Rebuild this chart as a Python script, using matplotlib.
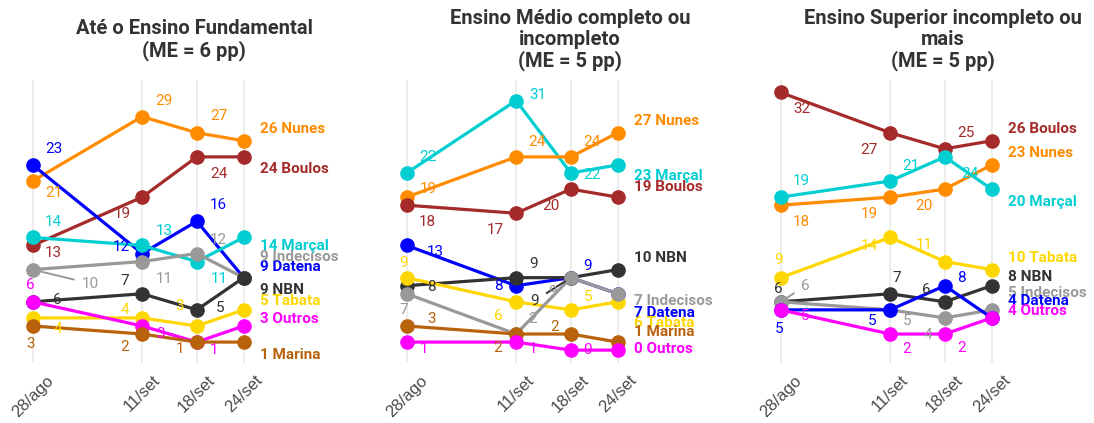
import matplotlib
matplotlib.use("Agg")
import matplotlib.pyplot as plt

plt.rcParams["font.family"] = ["Roboto", "DejaVu Sans"]

# --- data ---------------------------------------------------------------
dates = ["28/ago", "11/set", "18/set", "24/set"]
days = [0, 14, 21, 27]

titles = [
    "Até o Ensino Fundamental\n(ME = 6 pp)",
    "Ensino Médio completo ou\nincompleto\n(ME = 5 pp)",
    "Ensino Superior incompleto ou\nmais\n(ME = 5 pp)",
]

fundamental = {
    "Nunes": [21, 29, 27, 26],
    "Boulos": [13, 19, 24, 24],
    "Datena": [23, 12, 16, 9],
    "Marçal": [14, 13, 11, 14],
    "Indecisos": [10, 11, 12, 9],
    "NBN": [6, 7, 5, 9],
    "Tabata": [4, 4, 3, 5],
    "Outros": [6, 3, 1, 3],
    "Marina": [3, 2, 1, 1],
}
medio = {
    "Marçal": [22, 31, 22, 23],
    "Nunes": [19, 24, 24, 27],
    "Boulos": [18, 17, 20, 19],
    "Datena": [13, 8, 9, 7],
    "NBN": [8, 9, 9, 10],
    "Tabata": [9, 6, 5, 6],
    "Indecisos": [7, 2, 9, 7],
    "Marina": [3, 2, 2, 1],
    "Outros": [1, 1, 0, 0],
}
superior = {
    "Boulos": [32, 27, 25, 26],
    "Nunes": [18, 19, 20, 23],
    "Marçal": [19, 21, 24, 20],
    "Tabata": [9, 14, 11, 10],
    "NBN": [6, 7, 6, 8],
    "Indecisos": [6, 5, 4, 5],
    "Datena": [5, 5, 8, 4],
    "Outros": [5, 2, 2, 4],
}

colors = {
    "Nunes": "#FF8C00",
    "Boulos": "#A52A2A",
    "Datena": "#0000FF",
    "Marçal": "#00CED1",
    "Indecisos": "#999999",
    "NBN": "#333333",
    "Tabata": "#FFD700",
    "Outros": "#FF00FF",
    "Marina": "#B8620B",
}

# label placement (pixel offsets, dy positive = downwards), like ggrepel did it
offsets_fund = {
    "Nunes": [(21, 12), (22, -16), (22, -17)],
    "Boulos": [(21, 8), (-20, 17), (22, 17)],
    "Datena": [(21, -16), (-21, -7), (22, -16)],
    "Marçal": [(21, -15), (22, -14), (22, 17)],
    "Indecisos": [(58, 14), (22, 17), (22, -14)],
    "NBN": [(25, -2), (-17, -13), (23, -2)],
    "Tabata": [(25, 11), (-17, -8), (-17, -20)],
    "Outros": [(-2, -17), (18, 8), (17, 8)],
    "Marina": [(-2, 18), (-17, 13), (-17, 7)],
}
offsets_medio = {
    "Marçal": [(21, -16), (22, -6), (21, 2)],
    "Nunes": [(22, -8), (21, -15), (21, -15)],
    "Boulos": [(21, 17), (-21, 17), (-20, 17)],
    "Datena": [(29, 7), (-18, 0), (17, -12)],
    "NBN": [(25, 1), (17, -14), (-36, 23)],
    "Tabata": [(-3, -15), (-18, 14), (17, -13)],
    "Indecisos": [(-3, 16), (17, -15), (-18, 14)],
    "Marina": [(25, -7), (-18, 14), (-16, -7)],
    "Outros": [(17, 7), (17, 7), (17, 0)],
}
offsets_sup = {
    "Boulos": [(21, 17), (-21, 17), (21, -16)],
    "Nunes": [(21, 17), (-21, 17), (-21, 17)],
    "Marçal": [(21, -16), (21, -15), (25, 17)],
    "Tabata": [(-2, -18), (-21, 9), (-21, -17)],
    "NBN": [(-2, -13), (7, -16), (-18, -12)],
    "Indecisos": [(25, -16), (17, 11), (-17, 17)],
    "Datena": [(-2, 19), (-18, 11), (17, -8)],
    "Outros": [(24, 6), (17, 15), (17, 14)],
}
end_fund = {"Nunes": -11.5, "Boulos": 12.4, "Datena": -10.8, "Marçal": 8.4,
            "Indecisos": -20.8, "NBN": 12.5, "Tabata": -9, "Outros": -7.1,
            "Marina": 13.2}
end_medio = {"Marçal": 11, "Nunes": -11.9, "Boulos": -9.9, "Datena": 19.6,
             "NBN": -11.2, "Tabata": 21, "Indecisos": 7.3, "Marina": -9.6,
             "Outros": -1.6}
end_sup = {"Boulos": -11.4, "Nunes": -11.6, "Marçal": 13.2, "Tabata": -11.5,
           "NBN": -8.7, "Indecisos": -16.9, "Datena": -16.6, "Outros": -6.6}
# labels that got a connector segment
segments = [(0, "Indecisos", 0), (1, "NBN", 2), (2, "Indecisos", 0)]

panels = [
    (fundamental, offsets_fund, end_fund),
    (medio, offsets_medio, end_medio),
    (superior, offsets_sup, end_sup),
]

# --- layout -------------------------------------------------------------
W, H = 1094, 423
fig = plt.figure(figsize=(W / 100, H / 100), dpi=100)

px_per_day = 211 / 27
ax_w = 335
ax_top, ax_bottom = 80, 363
first_px = [32.7, 406.7, 780.7]
title_cx = [194, 570, 943]

for i, (data, offs, ends) in enumerate(panels):
    left = first_px[i] - 22.7
    ax = fig.add_axes([left / W, (H - ax_bottom) / H, ax_w / W, (ax_bottom - ax_top) / H])
    x0 = -(first_px[i] - left) / px_per_day
    ax.set_xlim(x0, x0 + ax_w / px_per_day)
    ax.set_ylim(-1.6, 33.55)

    for d in days:
        ax.axvline(d, color="#EBEBEB", lw=1.3, zorder=0)

    for name, vals in data.items():
        c = colors[name]
        ax.plot(days, vals, color=c, lw=2.3, marker="o", ms=9.5, zorder=2)
        for j in range(3):
            dx, dy = offs[name][j]
            seg = (i, name, j) in segments
            ax.annotate(
                str(vals[j]), (days[j], vals[j]), xytext=(dx, -dy),
                textcoords="offset pixels", ha="center", va="center",
                fontsize=11, color=c, zorder=3,
                arrowprops=dict(arrowstyle="-", color=c, lw=1.4,
                                shrinkA=4, shrinkB=5) if seg else None,
            )
        ax.annotate(
            f"{vals[3]} {name}", (days[3], vals[3]), xytext=(16, -ends[name]),
            textcoords="offset pixels", ha="left", va="center",
            fontsize=11, fontweight="bold", color=c, zorder=4,
            annotation_clip=False,
        )

    ax.set_xticks(days)
    ax.set_xticklabels(dates, rotation=45, ha="center", fontsize=12,
                       color="#4a4a4a", family=["Liberation Sans", "DejaVu Sans"])
    ax.tick_params(axis="x", length=0, pad=7)
    ax.set_yticks([])
    for s in ax.spines.values():
        s.set_visible(False)
    ax.patch.set_alpha(0)

    fig.text(title_cx[i] / W, 1 - 40 / H, titles[i], ha="center", va="center",
             multialignment="center", fontsize=14.5, fontweight="bold",
             color="#333333", linespacing=1.1)

fig.savefig("out.png", dpi=100)
